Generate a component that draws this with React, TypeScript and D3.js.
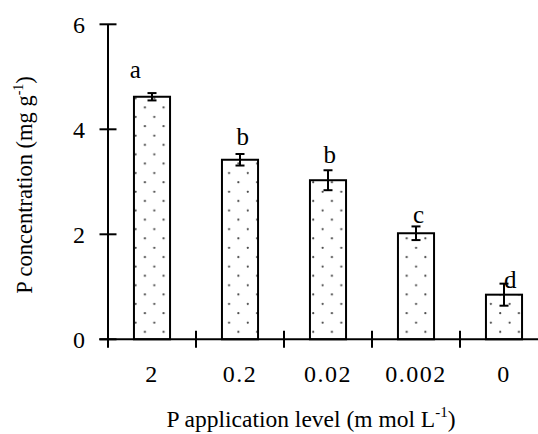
import * as d3 from 'd3';

// P application levels (m mol L-1)
const levels = ['2', '0.2', '0.02', '0.002', '0'];
// P concentration (mg g-1)
const means = [4.62, 3.42, 3.03, 2.02, 0.85];
const errors = [0.07, 0.11, 0.19, 0.13, 0.21];
// significance letters and where they sit (value units / band fraction)
const letters = ['a', 'b', 'b', 'c', 'd'];
const letterAt = [4.98, 3.7, 3.35, 2.21, 0.97];
const letterShift = [-0.19, 0.03, 0.02, 0.03, 0.07];
const yTicks = [0, 2, 4, 6];

const width = 538;
const height = 434;
const left = 108;
const top = 24.3;
const bottom = 339.3;
const band = 88;
const serif = { fontFamily: 'Liberation Serif' };

const x = d3
  .scaleBand()
  .domain(levels)
  .range([left, left + band * levels.length])
  .paddingInner(0.59)
  .paddingOuter(0.295);

const y = d3.scaleLinear().domain([0, 6]).range([bottom, top]);

const cx = (i: number) => x(levels[i])! + x.bandwidth() / 2;

export default function App() {
  return (
    <svg width={width} height={height} style={{ position: 'absolute', left: 0, top: 0 }}>
      <defs>
        <pattern id="dots" patternUnits="userSpaceOnUse" width={18.7} height={18.7}>
          <rect width={18.7} height={18.7} fill="#fff" />
          <circle cx={4.7} cy={4.7} r={1.1} fill="#444" />
          <circle cx={14} cy={14} r={1.1} fill="#444" />
        </pattern>
      </defs>
      <rect width={width} height={height} fill="#fff" />

      {/* bars */}
      {means.map((d, i) => (
        <rect
          key={levels[i]}
          x={x(levels[i])}
          y={y(d)}
          width={x.bandwidth()}
          height={y(0) - y(d)}
          fill="url(#dots)"
          stroke="#000"
          strokeWidth={2}
        />
      ))}

      {/* error bars */}
      <g stroke="#000" strokeWidth={2}>
        {means.map((d, i) => (
          <g key={i}>
            <line x1={cx(i)} x2={cx(i)} y1={y(d + errors[i])} y2={y(d - errors[i])} />
            <line x1={cx(i) - 4.5} x2={cx(i) + 4.5} y1={y(d + errors[i])} y2={y(d + errors[i])} />
            <line x1={cx(i) - 4.5} x2={cx(i) + 4.5} y1={y(d - errors[i])} y2={y(d - errors[i])} />
          </g>
        ))}
      </g>

      {/* letters */}
      {letters.map((t, i) => (
        <text
          key={i}
          x={cx(i) + letterShift[i] * band}
          y={y(letterAt[i])}
          textAnchor="middle"
          fontSize={25}
          style={serif}
        >
          {t}
        </text>
      ))}

      {/* axes */}
      <g stroke="#000" strokeWidth={2}>
        <line x1={left} x2={left} y1={top} y2={bottom} />
        <line x1={99.3} x2={width} y1={bottom} y2={bottom} />
        {yTicks.map((t) => (
          <line key={t} x1={left - 8.5} x2={left + 8.5} y1={y(t)} y2={y(t)} />
        ))}
        {d3.range(levels.length + 1).map((i) => (
          <line
            key={i}
            x1={left + i * band}
            x2={left + i * band}
            y1={bottom - 8.5}
            y2={bottom + 8.5}
          />
        ))}
      </g>

      {yTicks.map((t) => (
        <text key={t} x={85} y={y(t) + 8.4} textAnchor="end" fontSize={24} style={serif}>
          {t}
        </text>
      ))}

      {levels.map((l) => (
        <text
          key={l}
          x={x(l)! + x.bandwidth() / 2}
          y={382}
          textAnchor="middle"
          fontSize={24}
          letterSpacing={1.5}
          style={serif}
        >
          {l}
        </text>
      ))}

      {/* axis titles */}
      <text x={311} y={427} textAnchor="middle" fontSize={23.5} style={serif}>
        <tspan>P application level (m mol L</tspan>
        <tspan dy={-10} fontSize={15}>-1</tspan>
        <tspan dy={10}>)</tspan>
      </text>

      <text
        transform="translate(32,185) rotate(-90)"
        textAnchor="middle"
        fontSize={22.5}
        style={serif}
      >
        <tspan>P concentration (mg g</tspan>
        <tspan dy={-9} fontSize={14}>-1</tspan>
        <tspan dy={9}>)</tspan>
      </text>
    </svg>
  );
}
